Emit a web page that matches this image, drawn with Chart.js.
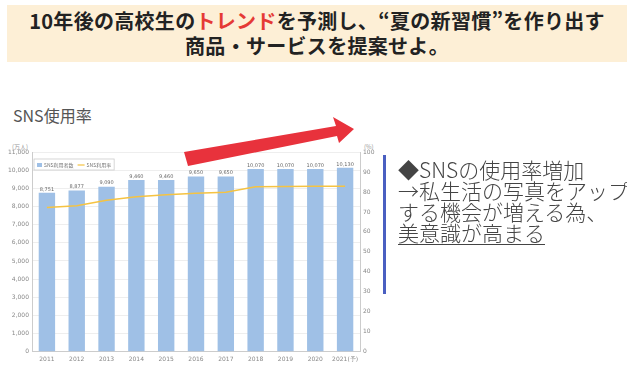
<!DOCTYPE html>
<html lang="ja">
<head>
<meta charset="utf-8">
<script src="https://cdn.jsdelivr.net/npm/chart.js@4.4.0/dist/chart.umd.min.js"></script>
<style>
  body { margin: 0; width: 627px; height: 367px; background: #fff; overflow: hidden; position: relative; font-family: "Noto Sans CJK JP", sans-serif; }
  .banner { position: absolute; left: 7px; top: 5px; width: 620px; height: 57px; background: #fdefd6; text-align: center; font-weight: bold; font-size: 20px; line-height: 25px; color: #222; padding-top: 3px; box-sizing: border-box; letter-spacing: 0.3px; }
  .banner .red { color: #e53935; }
  .title { position: absolute; left: 13px; top: 103px; font-size: 16px; color: #555; }
  .unit { position: absolute; font-size: 6px; color: #999; }
  #wrap { position: absolute; left: 0; top: 140px; width: 385px; height: 227px; }
  .bar-line { position: absolute; left: 383px; top: 155px; width: 3px; height: 139px; background: #4a5fc1; }
  .note { position: absolute; left: 398px; top: 159px; font-size: 21px; line-height: 21px; color: #444; white-space: nowrap; font-weight: 300; }
  .note u { text-decoration-thickness: 1px; text-underline-offset: 3px; }
  svg { position: absolute; left: 0; top: 0; }
</style>
</head>
<body>
<div class="banner">10年後の高校生の<span class="red">トレンド</span>を予測し、“夏の新習慣”を作り出す<br>商品・サービスを提案せよ。</div>
<div class="title">SNS使用率</div>
<div class="unit" style="left:12px;top:142px">(万人)</div>
<div class="unit" style="left:364px;top:142px">(%)</div>
<div id="wrap"><canvas id="chart"></canvas></div>
<svg width="627" height="367">
  <polygon points="184,152 336,126 333,117 354,129 339,143 337,136 188,166" fill="#e8323c"/>
</svg>
<div class="bar-line"></div>
<div class="note">◆SNSの使用率増加<br>→私生活の写真をアップ<br>する機会が増える為、<br><u>美意識が高まる</u></div>
<script>
const years = ['2011', '2012', '2013', '2014', '2015', '2016', '2017', '2018', '2019', '2020', '2021(予)'];
const users = [8751, 8877, 9090, 9460, 9460, 9650, 9650, 10070, 10070, 10070, 10130];
const usageRate = [72.2, 73.1, 75.9, 77.6, 78.6, 79.3, 79.8, 82.6, 82.7, 82.8, 82.8];

// value labels above the bars and a small boxed legend inside the plot
const extras = {
  id: 'extras',
  afterDatasetsDraw(chart) {
    const ctx = chart.ctx;
    const meta = chart.getDatasetMeta(1);
    ctx.save();
    ctx.font = '5px "DejaVu Sans", sans-serif';
    ctx.fillStyle = '#666';
    ctx.textAlign = 'center';
    ctx.textBaseline = 'bottom';
    meta.data.forEach((bar, i) => {
      ctx.fillText(users[i].toLocaleString('en-US'), bar.x, bar.y - 1);
    });

    const bars = chart.data.datasets[1];
    const line = chart.data.datasets[0];
    ctx.font = '5px "Noto Sans CJK JP", sans-serif';
    const w1 = ctx.measureText(bars.label).width;
    const w2 = ctx.measureText(line.label).width;
    const { left, top } = chart.chartArea;
    const bx = left + 2, by = top + 7;
    const bw = 3 + 5 + 2 + w1 + 4 + 7 + 2 + w2 + 3;
    ctx.fillStyle = '#fff';
    ctx.fillRect(bx, by, bw, 11);
    ctx.strokeStyle = '#ccc';
    ctx.lineWidth = 0.8;
    ctx.strokeRect(bx, by, bw, 11);
    let x = bx + 3;
    ctx.fillStyle = bars.backgroundColor;
    ctx.fillRect(x, by + 4, 5, 4);
    x += 7;
    ctx.fillStyle = '#777';
    ctx.textAlign = 'left';
    ctx.textBaseline = 'middle';
    ctx.fillText(bars.label, x, by + 6);
    x += w1 + 4;
    ctx.strokeStyle = line.borderColor;
    ctx.lineWidth = 1.2;
    ctx.beginPath();
    ctx.moveTo(x, by + 6);
    ctx.lineTo(x + 7, by + 6);
    ctx.stroke();
    x += 9;
    ctx.fillText(line.label, x, by + 6);
    ctx.restore();
  }
};

const tickFont = { size: 6, family: '"DejaVu Sans", sans-serif' };

new Chart(document.getElementById('chart'), {
  type: 'bar',
  data: {
    labels: years,
    datasets: [
      {
        type: 'line',
        label: 'SNS利用率',
        data: usageRate,
        yAxisID: 'y2',
        borderColor: '#f5c342',
        backgroundColor: '#f5c342',
        borderWidth: 1.5,
        pointRadius: 0,
        order: 0
      },
      {
        label: 'SNS利用者数',
        data: users,
        yAxisID: 'y',
        backgroundColor: '#9fc0e6',
        barPercentage: 0.55,
        categoryPercentage: 1,
        order: 1
      }
    ]
  },
  options: {
    responsive: true,
    maintainAspectRatio: false,
    animation: false,
    layout: { padding: { top: 12, right: 0, left: 0, bottom: 0 } },
    plugins: {
      legend: { display: false },
      tooltip: { enabled: false }
    },
    scales: {
      x: {
        grid: { display: false, drawTicks: false },
        border: { color: '#ccc' },
        ticks: { font: tickFont, color: '#888', maxRotation: 0, padding: 4 }
      },
      y: {
        position: 'left',
        min: 0,
        max: 11000,
        afterFit(scale) { scale.width = 32; },
        grid: { color: '#eee', drawTicks: false },
        border: { color: '#ccc' },
        ticks: { stepSize: 1000, font: tickFont, color: '#888', padding: 3, callback: v => v.toLocaleString('en-US') }
      },
      y2: {
        position: 'right',
        min: 0,
        max: 100,
        afterFit(scale) { scale.width = 25; },
        grid: { display: false, drawTicks: false },
        border: { color: '#ccc' },
        ticks: { stepSize: 10, font: tickFont, color: '#888', padding: 3 }
      }
    }
  },
  plugins: [extras]
});
</script>
</body>
</html>
